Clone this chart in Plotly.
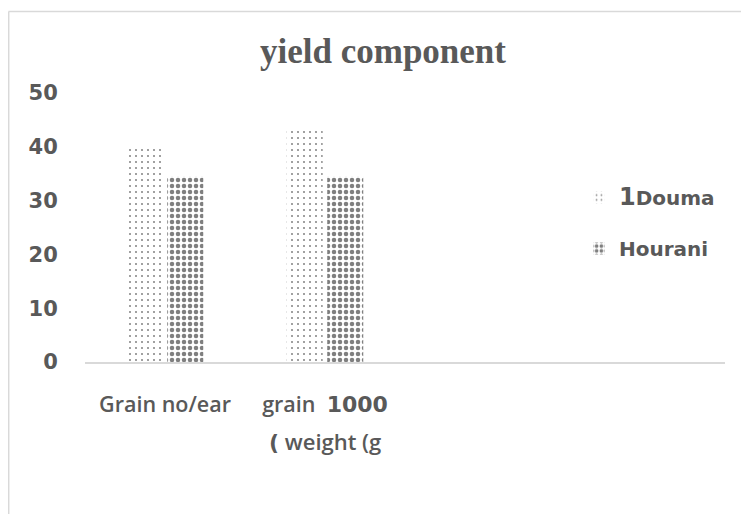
import plotly.graph_objects as go

# ---- data ----
categories = ["Grain no/ear",
              "grain  <span style=\"font-family:'DejaVu Sans';font-size:22px\"><b>1000</b></span>"]
category_second_line = ["", "<span style=\"font-family:'DejaVu Sans'\"><b>(</b></span> weight (g"]
series_names = ["<span style=\"font-size:24px\"><b>1</b></span>Douma", "Hourani"]
douma = [40, 43]
hourani = [34.5, 34.5]
y_ticks = [0, 10, 20, 30, 40, 50]
x_pos = [0, 1]

GREY = "#595959"
OFF = 8  # page body margin
W, H = 749 - OFF, 514 - OFF
# plot area in page pixels: left 85, right 725, top 93, bottom 362
L, T = 85 - OFF, 93 - OFF
R = W - (725 - OFF)
B = H - (362 - OFF)
PW, PH = W - L - R, H - T - B

def px_to_paper_x(px_page):
    return (px_page - OFF - L) / PW

def py_to_paper_y(py_page):
    return (H - B - (py_page - OFF)) / PH

fig = go.Figure()
fig.add_trace(go.Bar(
    x=x_pos, y=douma, name=series_names[0], legendgroup="a",
    marker=dict(color="white", line=dict(width=0),
                pattern=dict(shape=".", size=6, solidity=0.1, fgcolor="#111111", bgcolor="white")),
))
fig.add_trace(go.Bar(
    x=x_pos, y=hourani, name=series_names[1], legendgroup="b",
    marker=dict(color="white", line=dict(width=0),
                pattern=dict(shape=".", size=6, solidity=0.45, fgcolor="#000000", bgcolor="white")),
))

# second line of x labels
for xv, txt in zip(x_pos, category_second_line):
    if txt:
        fig.add_annotation(x=xv, y=py_to_paper_y(441), xref="x", yref="paper",
                           text=txt, showarrow=False, yanchor="middle", xanchor="center",
                           font=dict(family="Open Sans", size=22, color=GREY, weight=600))

# chart border (top and left visible)
fig.add_shape(type="line", xref="paper", yref="paper",
              x0=px_to_paper_x(8.5), x1=px_to_paper_x(770),
              y0=py_to_paper_y(11.5), y1=py_to_paper_y(11.5),
              line=dict(color="#d9d9d9", width=1.5))
fig.add_shape(type="line", xref="paper", yref="paper",
              x0=px_to_paper_x(8.7), x1=px_to_paper_x(8.7),
              y0=py_to_paper_y(11.5), y1=py_to_paper_y(540),
              line=dict(color="#d9d9d9", width=1.5))

fig.update_layout(
    width=W, height=H,
    margin=dict(l=L, r=R, t=T, b=B, autoexpand=False),
    paper_bgcolor="white", plot_bgcolor="white",
    barmode="group", bargap=0.494, bargroupgap=0.11,
    title=dict(text="<b>yield component</b>", x=(383 - OFF) / W, xref="container", xanchor="center",
               y=1 - (51 - OFF) / H, yref="container", yanchor="middle",
               font=dict(family="Liberation Serif", size=35, color=GREY)),
    xaxis=dict(range=[-0.5, 3.5], tickvals=x_pos, ticktext=categories,
               showgrid=False, zeroline=False, showline=True, linecolor="#d9d9d9", linewidth=1.5,
               ticks="outside", ticklen=22, tickcolor="rgba(0,0,0,0)",
               tickfont=dict(family="Open Sans", size=21.5, color=GREY, weight=600)),
    yaxis=dict(range=[0, 50], tickvals=y_ticks, showgrid=False, zeroline=False, showline=False,
               ticks="outside", ticklen=22, tickcolor="rgba(0,0,0,0)",
               tickfont=dict(family="DejaVu Sans", size=21, color=GREY, weight="bold")),
    legend=dict(x=px_to_paper_x(579), y=py_to_paper_y(178), xanchor="left", yanchor="top",
                traceorder="grouped", tracegroupgap=22,
                font=dict(family="DejaVu Sans", size=20, color=GREY, weight="bold"),
                bgcolor="rgba(0,0,0,0)"),
    showlegend=True,
)

fig.write_html("out.html")
